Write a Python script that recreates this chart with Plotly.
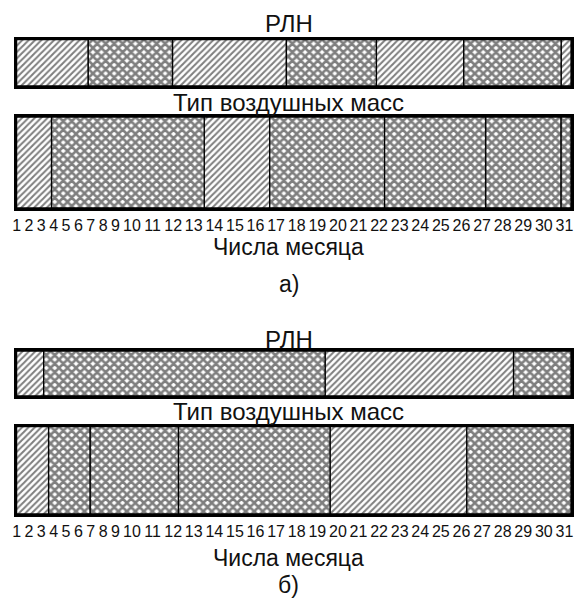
import numpy as np
import plotly.graph_objects as go

# ---------------- data ----------------
days = list(range(1, 32))
day_labels = [str(d) for d in days]

# segment boundaries (fractional day numbers) and segment types
# "h" = diagonal hatching, "c" = cross hatching
rln_a_edges = [1.0, 6.8, 11.97, 17.5, 21.87, 26.11, 30.84, 31.32]
rln_a_types = ["h", "c", "h", "c", "h", "c", "h"]

air_a_edges = [1.0, 3.83, 13.51, 16.69, 22.27, 27.18, 30.84, 31.32]
air_a_types = ["h", "c", "h", "c", "c", "c", "c"]

rln_b_edges = [1.0, 3.19, 19.38, 28.53, 31.32]
rln_b_types = ["h", "c", "h", "c"]

air_b_edges = [1.0, 3.59, 6.96, 12.26, 19.62, 26.26, 31.32]
air_b_types = ["h", "c", "c", "c", "h", "c"]

# ---------------- scale: labels laid out like a typed string of numbers ----------------
W, H = 574, 603
centers = []
cur = 0.0
for lab in day_labels:
    w = 0.5 * len(lab)
    centers.append(cur + w / 2)
    cur += w + 0.25
centers = np.array(centers)
dvals = np.array(days, dtype=float)


def pos(d):
    d = float(d)
    if d < dvals[0]:
        return centers[0] + (d - dvals[0]) * (centers[1] - centers[0])
    if d > dvals[-1]:
        return centers[-1] + (d - dvals[-1]) * (centers[-1] - centers[-2])
    return float(np.interp(d, dvals, centers))


def px_x(px):
    return px / W


def px_y(py):
    return 1 - py / H


FONT = "Liberation Sans, Arial, sans-serif"
patterns = {
    "h": dict(shape="/", fgcolor="black", bgcolor="white", size=4.5, solidity=0.45),
    "c": dict(shape="x", fgcolor="black", bgcolor="white", size=6, solidity=0.68),
}

rows = [
    (rln_a_edges, rln_a_types, (39.5, 86)),
    (air_a_edges, air_a_types, (117, 208)),
    (rln_b_edges, rln_b_types, (351, 396)),
    (air_b_edges, air_b_types, (426.5, 514)),
]

fig = go.Figure()
layout = {}
for i, (edges, types, (ptop, pbot)) in enumerate(rows, start=1):
    sfx = "" if i == 1 else str(i)
    for t in ("h", "c"):
        bases, widths = [], []
        for k, tt in enumerate(types):
            if tt == t:
                a, b = pos(edges[k]), pos(edges[k + 1])
                bases.append(a)
                widths.append(b - a)
        if not bases:
            continue
        fig.add_trace(go.Bar(
            y=[0] * len(bases), x=widths, base=bases, orientation="h", width=1,
            marker=dict(color="white", line=dict(color="black", width=1.3),
                        pattern=patterns[t]),
            xaxis="x" + sfx, yaxis="y" + sfx, showlegend=False, hoverinfo="skip",
        ))
    show_ticks = i in (2, 4)
    layout["xaxis" + sfx] = dict(
        domain=[px_x(12.7), px_x(572)], range=[pos(edges[0]), pos(edges[-1])],
        anchor="y" + sfx, showline=True, mirror=True, linecolor="black", linewidth=2.5,
        showgrid=False, zeroline=False, ticks="",
        tickmode="array", tickvals=[pos(d) for d in days], ticktext=day_labels,
        showticklabels=show_ticks, tickfont=dict(family=FONT, size=16, color="#111"),
        tickangle=0, ticklabelstandoff=1,
    )
    layout["yaxis" + sfx] = dict(
        domain=[px_y(pbot), px_y(ptop)], range=[-0.5, 0.5], anchor="x" + sfx,
        showline=True, mirror=True, linecolor="black", linewidth=2.5,
        showgrid=False, zeroline=False, showticklabels=False, ticks="",
    )


def ann(text, ypx, size=23):
    return dict(text=text, x=px_x(287), y=px_y(ypx), xref="paper", yref="paper",
                xanchor="center", yanchor="middle", showarrow=False,
                font=dict(family=FONT, size=size, color="#111"))


annotations = [
    ann("РЛН", 23, 24), ann("Тип воздушных масс", 102, 24), ann("Числа месяца", 247), ann("а)", 284),
    ann("РЛН", 339, 24), ann("Тип воздушных масс", 411, 24), ann("Числа месяца", 558), ann("б)", 585),
]

fig.update_layout(
    width=W, height=H, margin=dict(l=0, r=0, t=0, b=0),
    font=dict(family=FONT, color="#111"),
    paper_bgcolor="white", plot_bgcolor="white", barmode="overlay",
    annotations=annotations, **layout,
)
fig.write_html("out.html", config={"displayModeBar": False},
               post_script="document.body.style.margin='0';document.body.style.overflow='hidden';")
